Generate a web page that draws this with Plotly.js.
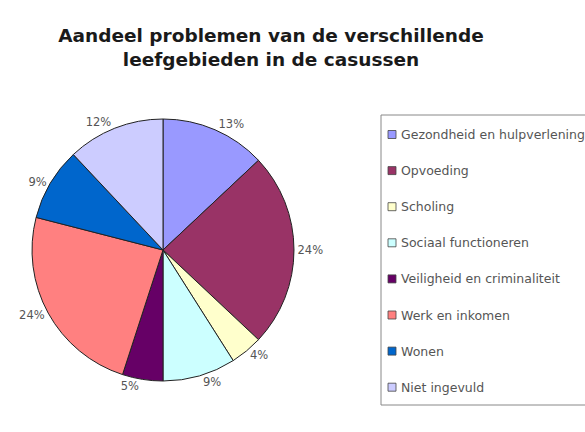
<!DOCTYPE html>
<html>
<head>
<meta charset="utf-8">
<script src="https://cdn.plot.ly/plotly-3.0.1.min.js"></script>
<style>html,body{margin:0;padding:0;background:#fff;}#chart{width:585px;height:432px;}</style>
</head>
<body>
<div id="chart"></div>
<script>
const categories = ["Gezondheid en hulpverlening","Opvoeding","Scholing","Sociaal functioneren","Veiligheid en criminaliteit","Werk en inkomen","Wonen","Niet ingevuld"];
const values = [13, 24, 4, 9, 5, 24, 9, 12];
const colors = ["#9999FF","#993366","#FFFFCC","#CCFFFF","#660066","#FF8080","#0066CC","#CCCCFF"];
const titleText = "Aandeel problemen van de verschillende<br>leefgebieden in de casussen";

const W = 585, H = 432;
const px = x => x / W;
const py = y => 1 - y / H;

const trace = {
  type: "pie",
  labels: categories,
  values: values,
  sort: false,
  direction: "clockwise",
  rotation: 0,
  marker: {colors: colors, line: {color: "#222", width: 1}},
  textposition: "outside",
  texttemplate: "%{percent:.0%}",
  textfont: {family: "DejaVu Sans, Arial, sans-serif", size: 11.5, color: "#555"},
  domain: {x: [px(32), px(294)], y: [py(381), py(119)]},
  showlegend: false,
  hoverinfo: "label+percent"
};

const shapes = [{
  type: "rect", xref: "paper", yref: "paper",
  x0: px(381), x1: px(600), y0: py(405), y1: py(115),
  line: {color: "#888", width: 1}, fillcolor: "rgba(0,0,0,0)"
}];
const annotations = [];
const top0 = 134.5, step = 36.1;
categories.forEach((c, i) => {
  const yc = top0 + i * step;
  shapes.push({
    type: "rect", xref: "paper", yref: "paper",
    x0: px(388), x1: px(396), y0: py(yc + 4), y1: py(yc - 4),
    line: {color: "#444", width: 0.8}, fillcolor: colors[i]
  });
  annotations.push({
    xref: "paper", yref: "paper", x: px(399), y: py(yc),
    xanchor: "left", yanchor: "middle", showarrow: false,
    text: c, font: {family: "DejaVu Sans, Arial, sans-serif", size: 12.5, color: "#555"}
  });
});

const layout = {
  width: W, height: H,
  margin: {l: 0, r: 0, t: 0, b: 0},
  paper_bgcolor: "#fff",
  title: {
    text: titleText,
    font: {family: "DejaVu Sans, Arial, sans-serif", size: 18.5, color: "#1a1a1a", weight: "bold"},
    x: px(271), xanchor: "center", xref: "paper",
    y: py(42), yanchor: "middle", yref: "container"
  },
  shapes: shapes,
  annotations: annotations
};

Plotly.newPlot("chart", [trace], layout, {displayModeBar: false, staticPlot: true});
</script>
</body>
</html>
